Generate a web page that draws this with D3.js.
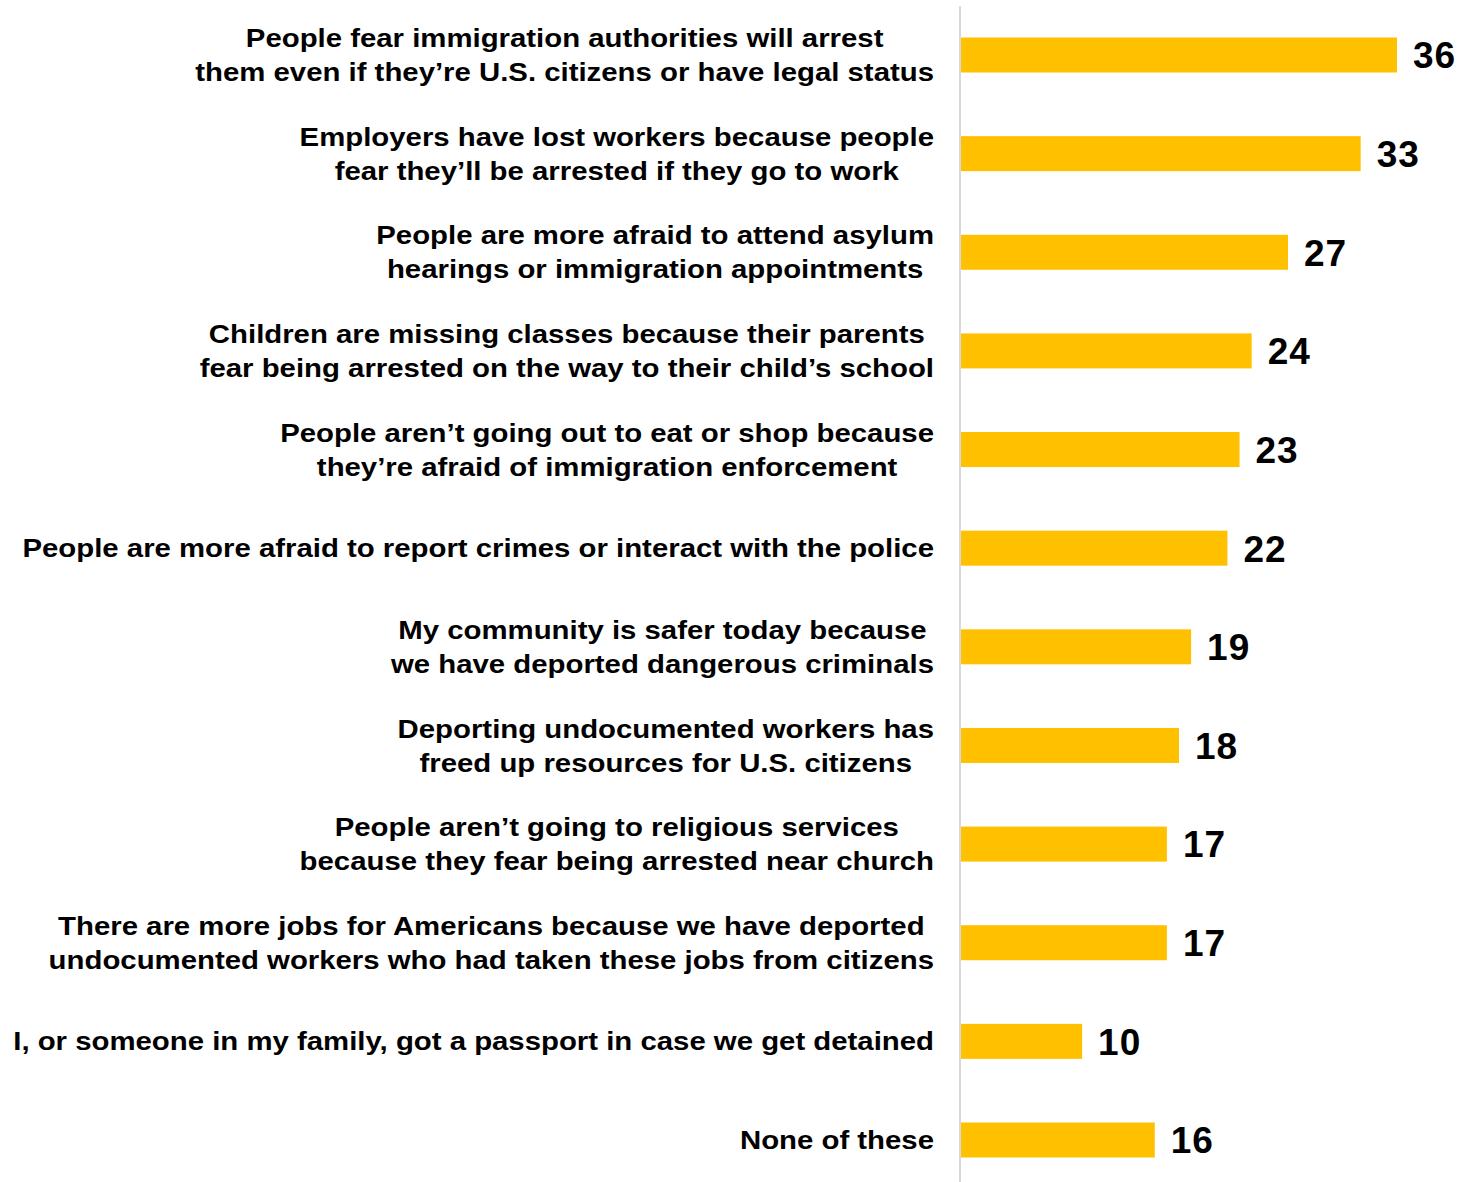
<!DOCTYPE html>
<html>
<head>
<meta charset="utf-8">
<script src="https://cdn.jsdelivr.net/npm/d3@7/dist/d3.min.js"></script>
<style>
  html, body { margin: 0; padding: 0; background: #fff; }
  svg { display: block; }
  text { font-family: "Liberation Sans", Arial, sans-serif; font-weight: bold; fill: #000; }
</style>
</head>
<body>
<svg id="chart" width="1460" height="1182"></svg>
<script>
const categories = [
  ["People fear immigration authorities will arrest", "them even if they’re U.S. citizens or have legal status"],
  ["Employers have lost workers because people", "fear they’ll be arrested if they go to work"],
  ["People are more afraid to attend asylum", "hearings or immigration appointments"],
  ["Children are missing classes because their parents", "fear being arrested on the way to their child’s school"],
  ["People aren’t going out to eat or shop because", "they’re afraid of immigration enforcement"],
  ["People are more afraid to report crimes or interact with the police"],
  ["My community is safer today because", "we have deported dangerous criminals"],
  ["Deporting undocumented workers has", "freed up resources for U.S. citizens"],
  ["People aren’t going to religious services", "because they fear being arrested near church"],
  ["There are more jobs for Americans because we have deported", "undocumented workers who had taken these jobs from citizens"],
  ["I, or someone in my family, got a passport in case we get detained"],
  ["None of these"]
];
const values = [36, 33, 27, 24, 23, 22, 19, 18, 17, 17, 10, 16];

const svg = d3.select("#chart");
const x0 = 961;
const x = d3.scaleLinear().domain([0, 36]).range([x0, 1397]);
const y = d3.scalePoint().domain(d3.range(categories.length)).range([55, 1140]);
const barH = 35;
const labelRight = 934;
const lineH = 34;
const labelSize = 25.2;
const stretch = 1.165;

// axis line
svg.append("line")
  .attr("x1", 960).attr("x2", 960)
  .attr("y1", 6).attr("y2", 1182)
  .attr("stroke", "#d9d9d9").attr("stroke-width", 2);

// bars
svg.selectAll("rect.bar").data(values).enter().append("rect")
  .attr("class", "bar")
  .attr("x", x0)
  .attr("y", (d, i) => y(i) - barH / 2)
  .attr("width", d => x(d) - x0)
  .attr("height", barH)
  .attr("fill", "#FFC000");

// value labels
svg.selectAll("text.val").data(values).enter().append("text")
  .attr("class", "val")
  .attr("x", d => x(d) + 16)
  .attr("y", (d, i) => y(i))
  .attr("dy", "0.36em")
  .style("font-size", "37px")
  .style("letter-spacing", "1px")
  .text(d => d);

// category labels (horizontally stretched glyphs)
categories.forEach((lines, i) => {
  const g = svg.append("g");
  const n = lines.length;
  const texts = lines.map((ln, j) => g.append("text")
    .attr("y", y(i) + (j - (n - 1) / 2) * lineH)
    .attr("dy", "0.36em")
    .style("font-size", labelSize + "px")
    .attr("text-anchor", "start")
    .text(ln));
  const widths = texts.map(t => t.node().getComputedTextLength() * stretch);
  const maxW = d3.max(widths);
  texts.forEach((t, j) => t
    .attr("x", labelRight - maxW / 2 - widths[j] / 2)
    .attr("textLength", widths[j])
    .attr("lengthAdjust", "spacingAndGlyphs"));
});
</script>
</body>
</html>
